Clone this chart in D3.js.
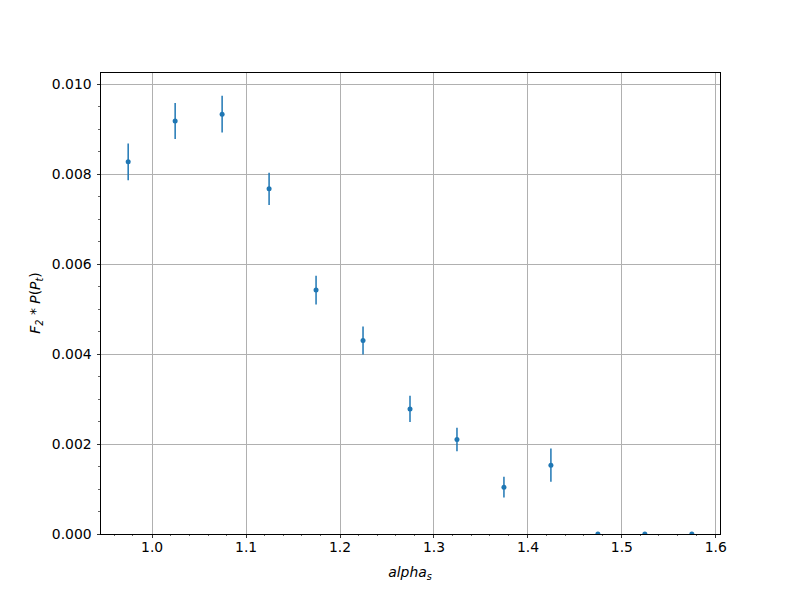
<!DOCTYPE html>
<html><head><meta charset="utf-8">
<script src="https://cdn.jsdelivr.net/npm/d3@7"></script>
<style>body{margin:0;background:#fff;} text{font-family:"DejaVu Sans",sans-serif;}</style>
</head><body>
<svg id="chart" width="800" height="600"></svg>
<script>
const xValues = [0.975,1.025,1.075,1.125,1.175,1.225,1.275,1.325,1.375,1.425,1.475,1.525,1.575];
const yValues = [0.00827,0.00918,0.00933,0.00767,0.00542,0.00430,0.00278,0.00210,0.00104,0.00153,0,0,0];
const yErrors = [0.00041,0.00040,0.00041,0.00036,0.00032,0.00031,0.00029,0.00026,0.00023,0.00037,0,0,0];
const xTicks = [1.0,1.1,1.2,1.3,1.4,1.5,1.6];
const yTicks = [0,0.002,0.004,0.006,0.008,0.010];

const svg = d3.select("#chart");
const L=100,R=720,T=72,B=534;
const x = d3.scaleLinear().domain([0.945,1.605]).range([L,R]);
const y = d3.scaleLinear().domain([0,0.010267]).range([B,T]);
const color="#1f77b4";
const snap = v => Math.round(v)+0.5;

svg.append("rect").attr("x",0).attr("y",0).attr("width",800).attr("height",600).attr("fill","#fff");
svg.append("defs").append("clipPath").attr("id","clip").append("rect")
  .attr("x",L).attr("y",T).attr("width",R-L).attr("height",B-T);

// grid
const g = svg.append("g");
g.selectAll(".gx").data(xTicks).enter().append("line")
  .attr("x1",d=>snap(x(d))).attr("x2",d=>snap(x(d))).attr("y1",T).attr("y2",B)
  .attr("stroke","#b0b0b0").attr("stroke-width",1);
g.selectAll(".gy").data(yTicks).enter().append("line")
  .attr("x1",L).attr("x2",R).attr("y1",d=>snap(y(d))).attr("y2",d=>snap(y(d)))
  .attr("stroke","#b0b0b0").attr("stroke-width",1);

// data
const data = xValues.map((v,i)=>({x:v,y:yValues[i],e:yErrors[i]}));
const pg = svg.append("g").attr("clip-path","url(#clip)");
pg.selectAll(".eb").data(data.filter(d=>d.e>0)).enter().append("line")
  .attr("x1",d=>x(d.x)).attr("x2",d=>x(d.x))
  .attr("y1",d=>y(d.y-d.e)).attr("y2",d=>y(d.y+d.e))
  .attr("stroke",color).attr("stroke-width",1.5);
pg.selectAll(".pt").data(data).enter().append("circle")
  .attr("cx",d=>x(d.x)).attr("cy",d=>y(d.y)).attr("r",2.5).attr("fill",color);

// axes
const fmtY = d3.format(".3f"), fmtX = d3.format(".1f");
const xAxis = d3.axisBottom(x).tickValues(xTicks).tickFormat(fmtX).tickSizeOuter(0).tickSize(3.5).tickPadding(4.9);
const yAxis = d3.axisLeft(y).tickValues(yTicks).tickFormat(fmtY).tickSizeOuter(0).tickSize(3.5).tickPadding(4.9);
const xMinor = d3.range(0.96,1.605,0.02).filter(v=>Math.abs(Math.round(v*10)-v*10)>1e-6);
const yMinor = d3.range(0.0005,0.0102,0.0005).filter(v=>Math.abs(Math.round(v*500)-v*500)>1e-6);

const gx = svg.append("g").attr("transform",`translate(0,${B})`).call(xAxis);
const gy = svg.append("g").attr("transform",`translate(${L},0)`).call(yAxis);
[gx,gy].forEach(a=>{
  a.select(".domain").remove();
  a.selectAll("text").attr("font-size","13.9px").attr("fill","#000").attr("font-family","DejaVu Sans");
  a.selectAll(".tick line").attr("stroke","#000").attr("stroke-width",0.8).attr("shape-rendering","crispEdges");
});
svg.append("g").selectAll("line").data(xMinor).enter().append("line")
  .attr("x1",d=>x(d)).attr("x2",d=>x(d)).attr("y1",B).attr("y2",B+2)
  .attr("stroke","#000").attr("stroke-width",0.6).attr("shape-rendering","crispEdges");
svg.append("g").selectAll("line").data(yMinor).enter().append("line")
  .attr("x1",L-2).attr("x2",L).attr("y1",d=>y(d)).attr("y2",d=>y(d))
  .attr("stroke","#000").attr("stroke-width",0.6).attr("shape-rendering","crispEdges");

// spines
svg.append("rect").attr("x",L+0.5).attr("y",T+0.5).attr("width",R-L).attr("height",B-T)
  .attr("fill","none").attr("stroke","#000").attr("stroke-width",1);

// labels
const xl = svg.append("text").attr("x",(L+R)/2).attr("y",577).attr("text-anchor","middle")
  .attr("font-size","13.9px").attr("font-style","italic");
xl.append("tspan").text("alpha");
xl.append("tspan").attr("font-size","9.7px").attr("dy",3).text("s");

const yl = svg.append("text").attr("transform",`translate(40,${(T+B)/2}) rotate(-90)`)
  .attr("text-anchor","middle").attr("font-size","13.9px");
yl.append("tspan").attr("font-style","italic").text("F");
yl.append("tspan").attr("font-size","9.7px").attr("dy",3).attr("font-style","italic").text("2");
yl.append("tspan").attr("dy",-3).text(" * ");
yl.append("tspan").attr("font-style","italic").text("P");
yl.append("tspan").text("(");
yl.append("tspan").attr("font-style","italic").text("P");
yl.append("tspan").attr("font-size","9.7px").attr("dy",3).attr("font-style","italic").text("t");
yl.append("tspan").attr("dy",-3).text(")");
</script>
</body></html>
